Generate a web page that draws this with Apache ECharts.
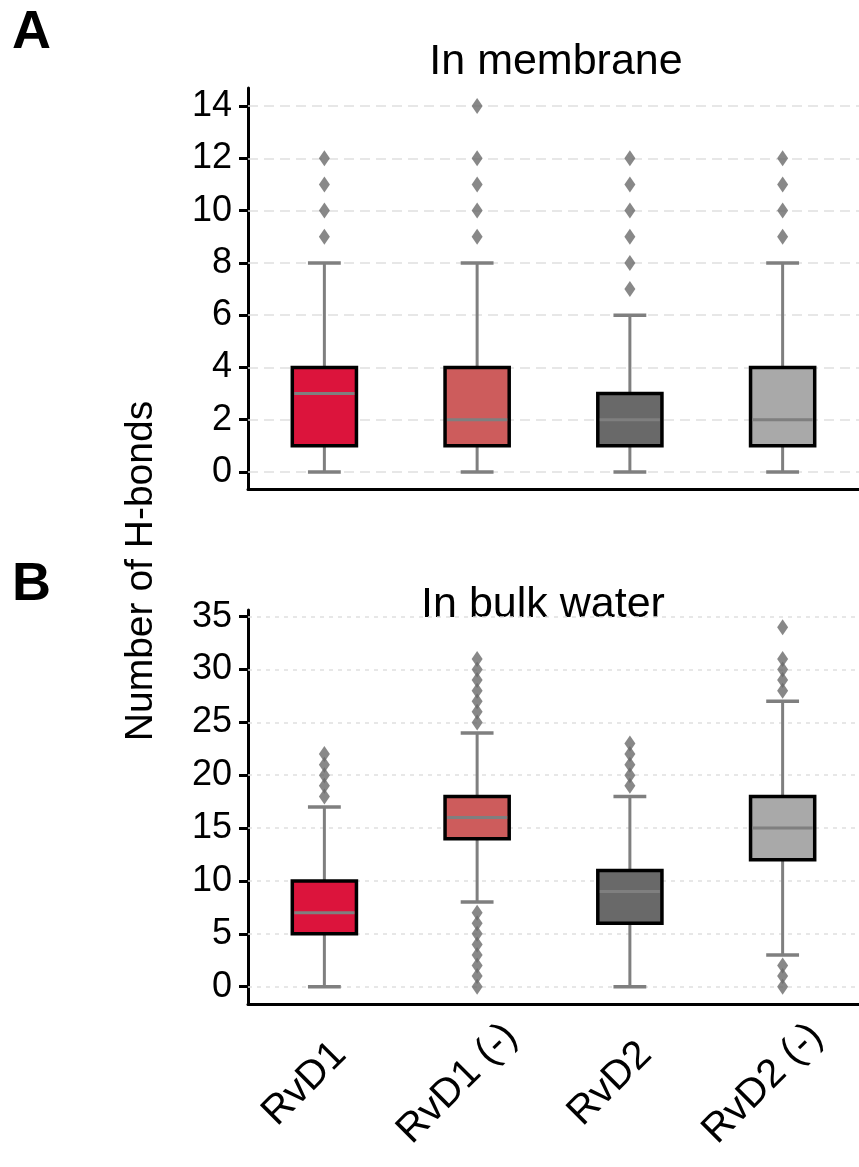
<!DOCTYPE html>
<html><head><meta charset="utf-8">
<script src="https://cdn.jsdelivr.net/npm/echarts@6/dist/echarts.min.js"></script>
<style>html,body{margin:0;padding:0;background:#fff}#c{width:859px;height:1167px}</style>
</head><body><div id="c"></div>
<script>
const categories = ['RvD1', 'RvD1 (-)', 'RvD2', 'RvD2 (-)'];
const boxColors = ['#DC143C', '#CD5C5C', '#696969', '#A9A9A9'];
// [low whisker, Q1, median, Q3, high whisker]
const membraneStats = [[0, 1, 3, 4, 8], [0, 1, 2, 4, 8], [0, 1, 2, 3, 6], [0, 1, 2, 4, 8]];
const membraneOutliers = [[9, 10, 11, 12], [9, 10, 11, 12, 14], [7, 8, 9, 10, 11, 12], [9, 10, 11, 12]];
const bulkStats = [[0, 5, 7, 10, 17], [8, 14, 16, 18, 24], [0, 6, 9, 11, 18], [3, 12, 15, 18, 27]];
const bulkOutliers = [[18, 19, 20, 21, 22], [0, 1, 2, 3, 4, 5, 6, 7, 25, 26, 27, 28, 29, 30, 31], [19, 20, 21, 22, 23], [0, 1, 2, 28, 29, 30, 31, 34]];
const membraneTicks = [0, 2, 4, 6, 8, 10, 12, 14];
const bulkTicks = [0, 5, 10, 15, 20, 25, 30, 35];

const FONT = "'Liberation Sans', Arial, sans-serif";
const GREY = '#7f7f7f';

function renderBox(params, api) {
  const i = params.dataIndex;
  const low = api.coord([api.value(0), api.value(1)]);
  const q1 = api.coord([api.value(0), api.value(2)]);
  const med = api.coord([api.value(0), api.value(3)]);
  const q3 = api.coord([api.value(0), api.value(4)]);
  const high = api.coord([api.value(0), api.value(5)]);
  const band = api.size([1, 0])[0];
  const bw = band * 0.42, cw = band * 0.215;
  const x = low[0];
  return {
    type: 'group', children: [
      { type: 'line', shape: { x1: x, y1: low[1], x2: x, y2: high[1] }, style: { stroke: GREY, lineWidth: 3 } },
      { type: 'line', shape: { x1: x - cw / 2, y1: low[1], x2: x + cw / 2, y2: low[1] }, style: { stroke: GREY, lineWidth: 3.5 } },
      { type: 'line', shape: { x1: x - cw / 2, y1: high[1], x2: x + cw / 2, y2: high[1] }, style: { stroke: GREY, lineWidth: 3.5 } },
      { type: 'rect', shape: { x: x - bw / 2, y: q3[1], width: bw, height: q1[1] - q3[1] }, style: { fill: boxColors[i], stroke: '#000', lineWidth: 3.5 } },
      { type: 'line', shape: { x1: x - bw / 2 + 2, y1: med[1], x2: x + bw / 2 - 2, y2: med[1] }, style: { stroke: GREY, lineWidth: 3 } }
    ]
  };
}

function xAxisCfg(gi, showLabels) {
  return {
    gridIndex: gi, type: 'category', data: categories, boundaryGap: true,
    axisLine: { onZero: false, lineStyle: { color: '#000', width: 3 } },
    axisTick: { alignWithLabel: true, length: 9, lineStyle: { color: '#000', width: 3 } },
    axisLabel: {
      show: showLabels, interval: 0, rotate: 45, align: 'center', verticalAlign: 'middle',
      padding: [0, 56, 0, 0], fontSize: 40, color: '#000', fontFamily: FONT, margin: 60
    },
    splitLine: { show: false }
  };
}
function yAxisCfg(gi, min, max, ticks) {
  return {
    gridIndex: gi, type: 'value', min: min, max: max,
    axisLine: { show: true, onZero: false, lineStyle: { color: '#000', width: 3 } },
    axisTick: { show: true, length: 9, customValues: ticks, lineStyle: { color: '#000', width: 3 } },
    axisLabel: { customValues: ticks, fontSize: 36, color: '#000', fontFamily: FONT, margin: 16 },
    splitLine: { show: false }
  };
}
function gridSeries(gi, ticks, dash) {
  return {
    type: 'line', xAxisIndex: gi, yAxisIndex: gi, data: [], z: 0, silent: true,
    markLine: {
      z: 1, silent: true, symbol: ['none', 'none'], label: { show: false }, animation: false,
      lineStyle: { color: '#e0e0e0', width: 1.5, type: dash },
      data: ticks.map(v => ({ yAxis: v }))
    }
  };
}
function boxSeries(gi, stats) {
  return {
    type: 'custom', xAxisIndex: gi, yAxisIndex: gi, z: 3,
    renderItem: renderBox,
    encode: { x: 0, y: [1, 2, 3, 4, 5] },
    data: stats.map((s, i) => [i].concat(s))
  };
}
function outlierSeries(gi, outl) {
  const pts = [];
  outl.forEach((arr, i) => arr.forEach(v => pts.push([i, v])));
  return {
    type: 'scatter', xAxisIndex: gi, yAxisIndex: gi, z: 4,
    symbol: 'diamond', symbolSize: [11, 16],
    itemStyle: { color: '#6a6a6a' },
    data: pts
  };
}

const chart = echarts.init(document.getElementById('c'), null, { renderer: 'canvas' });
chart.setOption({
  animation: false,
  backgroundColor: '#fff',
  grid: [
    { left: 248, top: 88, width: 620, height: 401 },
    { left: 248, top: 610, width: 620, height: 394 }
  ],
  xAxis: [xAxisCfg(0, false), xAxisCfg(1, true)],
  yAxis: [yAxisCfg(0, -0.65, 14.69, membraneTicks), yAxisCfg(1, -1.64, 35.63, bulkTicks)],
  series: [
    gridSeries(0, membraneTicks, [10, 6]),
    gridSeries(1, bulkTicks, [4, 5]),
    boxSeries(0, membraneStats),
    boxSeries(1, bulkStats),
    outlierSeries(0, membraneOutliers),
    outlierSeries(1, bulkOutliers)
  ],
  graphic: [
    { type: 'text', x: 12, y: 33, style: { text: 'A', font: "bold 54px " + FONT, fill: '#000', textVerticalAlign: 'middle' } },
    { type: 'text', x: 12, y: 585, style: { text: 'B', font: "bold 54px " + FONT, fill: '#000', textVerticalAlign: 'middle' } },
    { type: 'text', x: 556, y: 62, style: { text: 'In membrane', font: "43px " + FONT, fill: '#000', textAlign: 'center', textVerticalAlign: 'middle' } },
    { type: 'text', x: 543, y: 605, style: { text: 'In bulk water', font: "43px " + FONT, fill: '#000', textAlign: 'center', textVerticalAlign: 'middle' } },
    { type: 'text', x: 141, y: 571, rotation: Math.PI / 2, style: { text: 'Number of H-bonds', font: "39px " + FONT, fill: '#000', textAlign: 'center', textVerticalAlign: 'middle' } }
  ]
});
</script>
</body></html>
